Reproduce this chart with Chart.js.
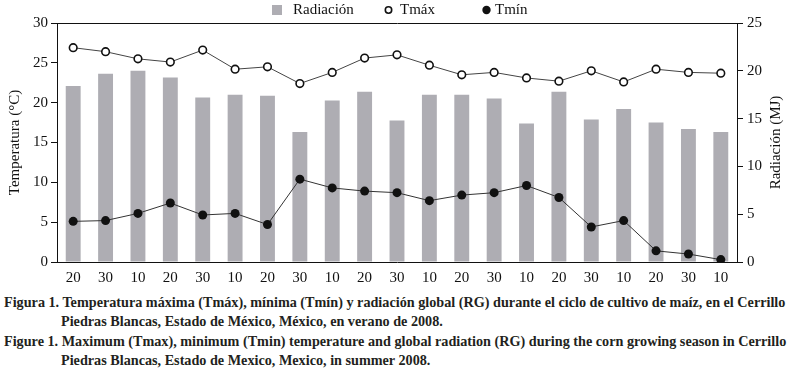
<!DOCTYPE html>
<html>
<head>
<meta charset="utf-8">
<script src="https://cdn.jsdelivr.net/npm/chart.js@4/dist/chart.umd.min.js"></script>
<style>
  body { margin: 0; background: #fff; }
  #wrap { position: relative; width: 791px; height: 288px; }
  #caption {
    position: absolute; left: 4px; top: 293px;
    font: bold 14.2px "Liberation Serif", serif; color: #231f20;
    line-height: 19.3px; white-space: nowrap;
  }
  #caption p { margin: 0; padding-left: 57px; text-indent: -57px; }
</style>
</head>
<body>
<div id="wrap"><canvas id="chart"></canvas></div>
<div id="caption">
  <p>Figura 1. Temperatura máxima (Tmáx), mínima (Tmín) y radiación global (RG) durante el ciclo de cultivo de maíz, en el Cerrillo<br>Piedras Blancas, Estado de México, México, en verano de 2008.</p>
  <p>Figure 1. Maximum (Tmax), minimum (Tmin) temperature and global radiation (RG) during the corn growing season in Cerrillo<br>Piedras Blancas, Estado de Mexico, Mexico, in summer 2008.</p>
</div>
<script>
'use strict';

const labels    = ['20', '30', '10', '20', '30', '10', '20', '30', '10', '20', '30', '10', '20', '30', '10', '20', '30', '10', '20', '30', '10'];
const radiacion = [18.4, 19.7, 20.0, 19.3, 17.2, 17.5, 17.4, 13.6, 16.9, 17.8, 14.8, 17.5, 17.5, 17.1, 14.5, 17.8, 14.9, 16.0, 14.6, 13.9, 13.6];
const tmax      = [26.9, 26.4, 25.5, 25.1, 26.6, 24.2, 24.5, 22.4, 23.8, 25.6, 26.0, 24.7, 23.5, 23.8, 23.1, 22.7, 24.0, 22.6, 24.2, 23.8, 23.7];
const tmin      = [5.1, 5.2, 6.1, 7.4, 5.9, 6.1, 4.7, 10.4, 9.3, 8.9, 8.7, 7.7, 8.4, 8.7, 9.6, 8.1, 4.4, 5.2, 1.4, 1.0, 0.3];
const tempTicks = [0, 5, 10, 15, 20, 25, 30];
const radTicks  = [0, 5, 10, 15, 20, 25];

const FONT = '"Liberation Serif", serif';
const BAR_COLOR = '#aeadb3';
const INK = '#111';

// legend is drawn by hand so the uneven spacing of the original can be kept
// [icon centre x, text x] per dataset
const legendSpots = [[277, 293], [388.5, 400], [486.5, 495]];

const customLegend = {
  id: 'customLegend',
  afterDraw(chart) {
    const { ctx } = chart;
    const y = 10;
    ctx.save();
    ctx.font = '15px ' + FONT;
    ctx.textBaseline = 'middle';
    ctx.textAlign = 'left';
    chart.data.datasets.forEach((ds, i) => {
      const [cx, tx] = legendSpots[i];
      if (i === 0) {
        ctx.fillStyle = BAR_COLOR;
        ctx.fillRect(cx - 5, y - 5, 10, 10);
      } else {
        ctx.beginPath();
        ctx.arc(cx, y, i === 1 ? 3.2 : 4.2, 0, Math.PI * 2);
        if (i === 1) { ctx.lineWidth = 1.6; ctx.strokeStyle = INK; ctx.stroke(); }
        else { ctx.fillStyle = INK; ctx.fill(); }
      }
      ctx.fillStyle = INK;
      ctx.fillText(ds.label, tx, y);
    });
    ctx.restore();
  }
};

// both axis titles read bottom-to-top
const axisTitles = {
  id: 'axisTitles',
  afterDraw(chart) {
    const { ctx, chartArea } = chart;
    const cy = (chartArea.top + chartArea.bottom) / 2;
    ctx.save();
    ctx.font = '15px ' + FONT;
    ctx.fillStyle = INK;
    ctx.textAlign = 'center';
    ctx.textBaseline = 'middle';
    [[15, 'Temperatura (°C)'], [776, 'Radiación (MJ)']].forEach(([x, t]) => {
      ctx.save();
      ctx.translate(x, cy);
      ctx.rotate(-Math.PI / 2);
      ctx.fillText(t, 0, 0);
      ctx.restore();
    });
    ctx.restore();
  }
};

const tickFont = { family: FONT, size: 15 };

new Chart(document.getElementById('chart'), {
  type: 'bar',
  data: {
    labels,
    datasets: [
      {
        label: 'Radiación', data: radiacion, yAxisID: 'y1', order: 2,
        backgroundColor: BAR_COLOR, barPercentage: 0.46, categoryPercentage: 1
      },
      {
        type: 'line', label: 'Tmáx', data: tmax, yAxisID: 'y', order: 1,
        borderColor: '#444', borderWidth: 1, pointRadius: 3.8, pointBorderWidth: 1.6,
        pointBackgroundColor: '#fff', pointBorderColor: INK
      },
      {
        type: 'line', label: 'Tmín', data: tmin, yAxisID: 'y', order: 0,
        borderColor: '#333', borderWidth: 1, pointRadius: 4.5, pointBorderWidth: 0,
        pointBackgroundColor: INK, pointBorderColor: INK
      }
    ]
  },
  options: {
    responsive: true,
    maintainAspectRatio: false,
    animation: false,
    layout: { padding: { top: 23, left: 12, right: 0, bottom: 0 } },
    plugins: {
      tooltip: { enabled: false },
      legend: { display: false }
    },
    scales: {
      x: {
        grid: { display: false, drawTicks: false },
        border: { color: INK, width: 1 },
        ticks: { color: INK, font: tickFont, padding: 7, maxRotation: 0, autoSkip: false },
        afterFit(s) { s.height = 26; }
      },
      xTop: {
        type: 'category', position: 'top', labels,
        grid: { display: false, drawTicks: false },
        border: { color: INK, width: 1 },
        ticks: { display: false }
      },
      y: {
        position: 'left', min: 0, max: 30,
        grid: { drawOnChartArea: false, tickLength: 6, tickColor: INK },
        border: { color: INK, width: 1 },
        ticks: { color: INK, font: tickFont, padding: 3, stepSize: 5 },
        afterBuildTicks(s) { s.ticks = tempTicks.map(v => ({ value: v })); },
        afterFit(s) { s.width = 45; }
      },
      y1: {
        position: 'right', min: 0, max: 25,
        grid: { drawOnChartArea: false, tickLength: 6, tickColor: INK },
        border: { color: INK, width: 1 },
        ticks: { color: INK, font: tickFont, padding: 4, stepSize: 5 },
        afterBuildTicks(s) { s.ticks = radTicks.map(v => ({ value: v })); },
        afterFit(s) { s.width = 54; }
      }
    }
  },
  plugins: [customLegend, axisTitles]
});
</script>
</body>
</html>
